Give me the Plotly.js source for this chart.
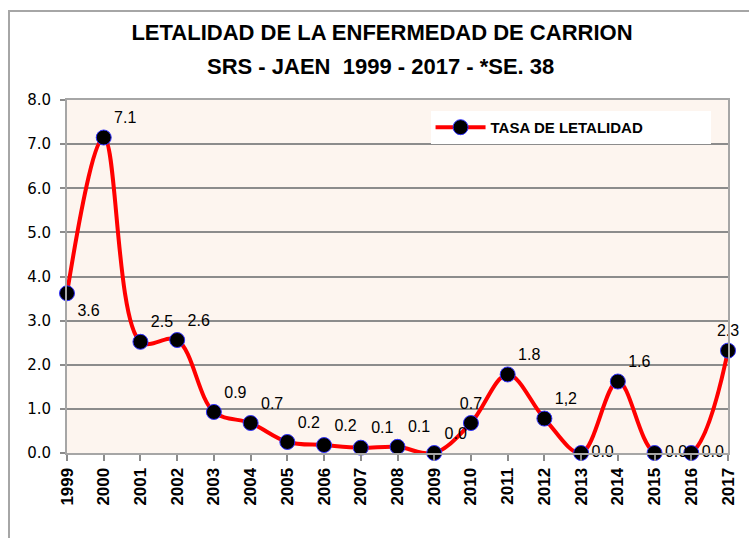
<!DOCTYPE html>
<html>
<head>
<meta charset="utf-8">
<script src="https://cdn.plot.ly/plotly-3.0.1.min.js"></script>
<style>
  html, body { margin: 0; padding: 0; background: #ffffff; overflow: hidden; }
  #frame { position: absolute; left: 8px; top: 10px; width: 780px; height: 580px; border: 2px solid #a6a6a6; }
  #chart { position: absolute; left: 0; top: 0; width: 749px; height: 538px; }
</style>
</head>
<body>
<div id="frame"></div>
<div id="chart"></div>
<script>
var years = ['1999', '2000', '2001', '2002', '2003', '2004', '2005', '2006', '2007', '2008',
             '2009', '2010', '2011', '2012', '2013', '2014', '2015', '2016', '2017'];
var tasa = [3.62, 7.15, 2.52, 2.56, 0.93, 0.68, 0.25, 0.18, 0.12, 0.14,
            0.0, 0.68, 1.78, 0.78, 0.0, 1.62, 0.0, 0.0, 2.32];
var etiquetas = ['3.6', '7.1', '2.5', '2.6', '0.9', '0.7', '0.2', '0.2', '0.1', '0.1',
                 '0.0', '0.7', '1.8', '1,2', '0.0', '1.6', '0.0', '0.0', '2.3'];

// where Excel dropped each data label
var labelPos = ['bottom right', 'top right', 'top right', 'top right', 'top right', 'top right',
                'top right', 'top right', 'top right', 'top right', 'top right', 'top center',
                'top right', 'top right', 'middle right', 'top right', 'middle right',
                'middle right', 'top center'];

var CHART = document.getElementById('chart');

var trace1 = {
    x: years,
    y: tasa,
    text: etiquetas,
    type: 'scatter',
    mode: 'lines+markers+text',
    name: 'TASA DE LETALIDAD',
    textposition: labelPos,
    textfont: { family: 'Liberation Sans, Arial, sans-serif', size: 16, color: '#000000' },
    cliponaxis: false,
    line: { color: '#ff0000', width: 4, shape: 'spline', smoothing: 1 },
    marker: {
        color: '#000000',
        size: 15,
        line: { color: '#3030ff', width: 1 }
    }
};

var titleFont = { family: 'Liberation Sans, Arial, sans-serif', size: 22, color: '#000000', weight: 'bold' };

var layout = {
    width: 749,
    height: 538,
    margin: { l: 67, r: 21, t: 100, b: 85 },
    paper_bgcolor: 'rgba(0,0,0,0)',
    plot_bgcolor: '#fdf5ef',
    title: {
        text: 'LETALIDAD DE LA ENFERMEDAD DE CARRION',
        font: titleFont,
        xref: 'container',
        x: 0.51,
        xanchor: 'center',
        yref: 'container',
        y: 1 - 32 / 538,
        yanchor: 'middle'
    },
    annotations: [{
        text: 'SRS - JAEN&nbsp;&nbsp;1999 - 2017 - *SE. 38',
        font: titleFont,
        showarrow: false,
        xref: 'paper',
        x: (380 - 67) / 661,
        xanchor: 'center',
        yref: 'paper',
        y: (453 - 66) / 353,
        yanchor: 'middle'
    }],
    showlegend: true,
    legend: {
        orientation: 'h',
        x: 0.55,
        y: 0.969,
        xanchor: 'left',
        yanchor: 'top',
        bgcolor: '#ffffff',
        borderwidth: 0,
        font: { family: 'Liberation Sans, Arial, sans-serif', size: 15, color: '#000000', weight: 'bold' },
        entrywidth: 215,
        itemwidth: 50
    },
    xaxis: {
        type: 'category',
        range: [0, 18],
        tickangle: -90,
        tickfont: { family: 'Liberation Sans, Arial, sans-serif', size: 17, color: '#000000', weight: 'bold' },
        ticks: 'outside',
        ticklen: 6,
        tickcolor: '#8c8c8c',
        tickwidth: 1.5,
        showgrid: false,
        showline: true,
        linecolor: '#a6a6a6',
        linewidth: 2,
        mirror: true,
        zeroline: false,
        fixedrange: true
    },
    yaxis: {
        range: [0, 8],
        dtick: 1,
        tickformat: '.1f',
        tickfont: { family: 'DejaVu Sans, sans-serif', size: 15, color: '#000000' },
        ticks: 'outside',
        ticklen: 5,
        tickcolor: '#8c8c8c',
        tickwidth: 1.5,
        ticklabelstandoff: 6,
        showgrid: true,
        gridcolor: '#8c8c8c',
        gridwidth: 1.5,
        showline: true,
        linecolor: '#a6a6a6',
        linewidth: 2,
        mirror: true,
        zeroline: false,
        fixedrange: true
    }
};

var config = { responsive: false, displayModeBar: false };
Plotly.newPlot(CHART, [trace1], layout, config);
</script>
</body>
</html>
